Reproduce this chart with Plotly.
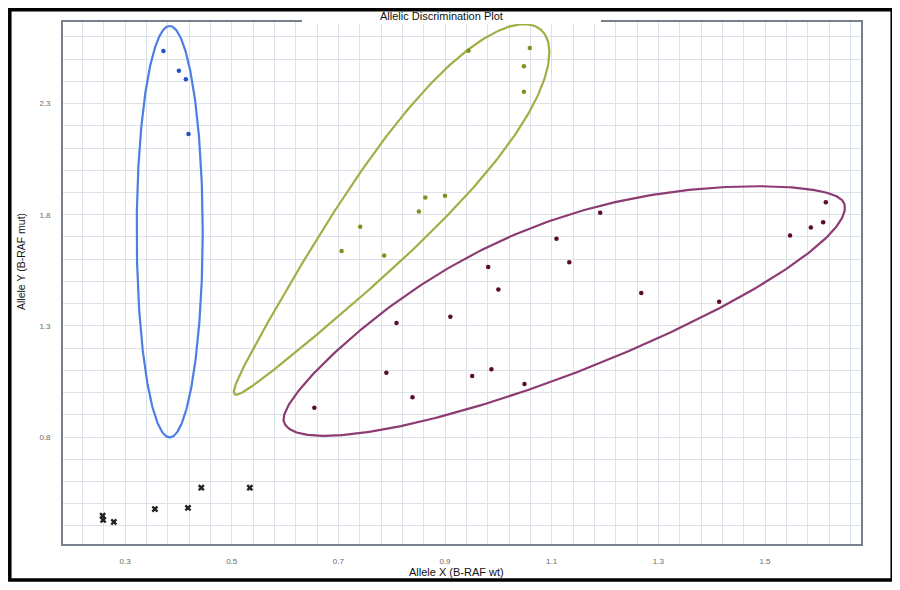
import numpy as np
import plotly.graph_objects as go

# ---------------- data ----------------
blue_x = [0.372, 0.401, 0.414, 0.419]
blue_y = [2.536, 2.448, 2.410, 2.163]

green_x = [0.944, 1.059, 1.048, 1.048, 0.863, 0.900, 0.851, 0.741, 0.706, 0.786]
green_y = [2.538, 2.550, 2.468, 2.353, 1.878, 1.885, 1.815, 1.746, 1.637, 1.617]

purple_x = [0.655, 0.790, 0.809, 0.839, 0.910, 0.951, 0.981, 0.987, 1.000, 1.049,
            1.109, 1.133, 1.191, 1.268, 1.414, 1.547, 1.586, 1.609, 1.614]
purple_y = [0.932, 1.089, 1.313, 0.979, 1.341, 1.074, 1.565, 1.105, 1.464, 1.038,
            1.692, 1.586, 1.809, 1.448, 1.409, 1.707, 1.743, 1.766, 1.856]

ntc_x = [0.258, 0.259, 0.279, 0.356, 0.418, 0.443, 0.534]
ntc_y = [0.446, 0.427, 0.418, 0.476, 0.481, 0.572, 0.572]

x_ticks = [0.3, 0.5, 0.7, 0.9, 1.1, 1.3, 1.5]
y_ticks = [0.8, 1.3, 1.8, 2.3]

# cluster outlines: centre (data), angle (deg), half-length (px),
# upper profile (b, ellipse weight), lower profile (b, ellipse weight), egg factor
blue_ring = dict(cx=0.3838, cy=1.7235, ang=90.0, a=205.7, up=(33, 1.0), lo=(33, 1.0), k=0.0)
green_ring = dict(cx=0.7924, cy=1.813, ang=50.0, a=238.0, up=(45, 1.0), lo=(45, 1.0), k=0.55)
purple_ring = dict(cx=1.1232, cy=1.359, ang=21.4, a=300.7, up=(91, 0.5), lo=(60, 1.0), k=0.0)

# ---------------- layout geometry ----------------
OFF = 8                      # page body margin of the browser
W, H = 900 - OFF, 590 - OFF
ML, MR, MT, MB = 63 - OFF, 39, 22 - OFF, 46
XR = [0.1837, 1.680]
YR = [0.3187, 2.667]
PW = W - ML - MR
PH = H - MT - MB
px_x = PW / (XR[1] - XR[0])
px_y = PH / (YR[1] - YR[0])


def outline(cx, cy, ang, a, up, lo, k):
    t = np.linspace(0, 2 * np.pi, 361)
    r = np.cos(t)
    s = np.sin(t)
    rr = np.clip(r, -1, 1)

    def prof(b, w):
        return b * (w * np.sqrt(1 - rr ** 2) + (1 - w) * np.cos(np.pi * rr / 2)) * (1 + k * rr)

    v = np.where(s >= 0, prof(*up), -prof(*lo))
    u = a * rr
    th = np.radians(ang)
    dx = u * np.cos(th) - v * np.sin(th)
    dy = u * np.sin(th) + v * np.cos(th)
    return cx + dx / px_x, cy + dy / px_y


def px2paper_x(p):
    return (p - OFF - ML) / PW


def px2paper_y(p):
    return (H - MB - (p - OFF)) / PH


fig = go.Figure()

for ring, col in [(blue_ring, "#4d7fe3"), (green_ring, "#a3ad45"), (purple_ring, "#8c3c72")]:
    ex, ey = outline(**ring)
    fig.add_trace(go.Scatter(x=ex, y=ey, mode="lines", line=dict(color=col, width=2.2),
                             hoverinfo="skip", showlegend=False))

fig.add_trace(go.Scatter(x=blue_x, y=blue_y, mode="markers",
                         marker=dict(color="#2550c8", size=4.5), showlegend=False))
fig.add_trace(go.Scatter(x=green_x, y=green_y, mode="markers",
                         marker=dict(color="#7f901c", size=4.5), showlegend=False))
fig.add_trace(go.Scatter(x=purple_x, y=purple_y, mode="markers",
                         marker=dict(color="#5a0b2c", size=4.5), showlegend=False))
fig.add_trace(go.Scatter(x=ntc_x, y=ntc_y, mode="markers",
                         marker=dict(color="#222222", size=6, symbol="x",
                                     line=dict(width=0)),
                         showlegend=False))

grid_col = "#dbe2ea"
axis_font = dict(family="Liberation Sans, Arial, sans-serif", size=8, color="#6a6a6a")

fig.update_xaxes(range=XR, tickmode="array", tickvals=x_ticks,
                 ticktext=[f"{v:.1f}" for v in x_ticks],
                 showgrid=True, gridcolor=grid_col, gridwidth=1.3,
                 minor=dict(tick0=0.3, dtick=0.04, showgrid=True, gridcolor=grid_col, gridwidth=1.3),
                 showline=True, linecolor="#76818c", linewidth=1.8, mirror=True,
                 zeroline=False, ticks="", ticklabelstandoff=8, tickfont=axis_font)
fig.update_yaxes(range=YR, tickmode="array", tickvals=y_ticks,
                 ticktext=[f"{v:.1f}" for v in y_ticks],
                 showgrid=True, gridcolor=grid_col, gridwidth=1.3,
                 minor=dict(tick0=0.8, dtick=0.1, showgrid=True, gridcolor=grid_col, gridwidth=1.3),
                 showline=True, linecolor="#76818c", linewidth=1.8, mirror=True,
                 zeroline=False, ticks="", ticklabelstandoff=9, tickfont=axis_font)

shapes = [
    # white box behind the chart title (hides part of the top frame line)
    dict(type="rect", xref="paper", yref="paper",
         x0=px2paper_x(302), x1=px2paper_x(601), y0=px2paper_y(24), y1=px2paper_y(11),
         fillcolor="white", line=dict(width=0), layer="above"),
    # outer black picture frame
    dict(type="rect", xref="paper", yref="paper",
         x0=px2paper_x(9.8), x1=px2paper_x(892.2), y0=px2paper_y(580), y1=px2paper_y(9.8),
         line=dict(color="black", width=3.5), fillcolor="rgba(0,0,0,0)", layer="above"),
]

title_font = dict(family="Liberation Sans, Arial, sans-serif", size=11, color="#111111")
annotations = [
    dict(text="Allelic Discrimination Plot", xref="paper", yref="paper",
         x=px2paper_x(441.5), y=px2paper_y(15.5), xanchor="center", yanchor="middle",
         showarrow=False, font=title_font),
    dict(text="Allele X (B-RAF wt)", xref="paper", yref="paper",
         x=px2paper_x(456), y=px2paper_y(572), xanchor="center", yanchor="middle",
         showarrow=False, font=title_font),
    dict(text="Allele Y (B-RAF mut)", xref="paper", yref="paper",
         x=px2paper_x(21), y=px2paper_y(262), xanchor="center", yanchor="middle",
         textangle=-90, showarrow=False, font=dict(family="Liberation Sans, Arial, sans-serif",
                                                   size=10.5, color="#111111")),
]

fig.update_layout(width=W, height=H, margin=dict(l=ML, r=MR, t=MT, b=MB),
                  paper_bgcolor="white", plot_bgcolor="white",
                  shapes=shapes, annotations=annotations, showlegend=False)

fig.write_html("out.html")
